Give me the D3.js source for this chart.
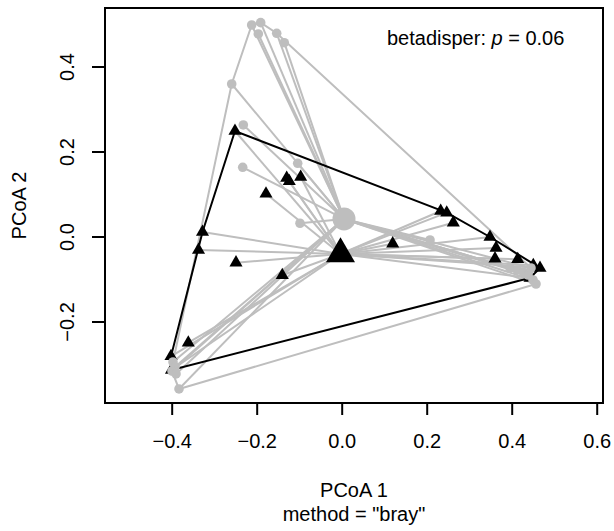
<!DOCTYPE html>
<html>
<head>
<meta charset="utf-8">
<script src="https://cdn.jsdelivr.net/npm/d3@7"></script>
<style>
  body { margin: 0; background: #fff; }
  text { font-family: "Liberation Sans", Arial, Helvetica, sans-serif; fill: #000; }
</style>
</head>
<body>
<svg id="chart" width="614" height="531"></svg>
<script>
// Site scores on PCoA axes 1 and 2, group 1 (grey circles)
const group1X = [-0.2118, -0.1906, -0.1962, -0.1529, -0.1351, -0.2588, -0.2315, -0.2329, -0.1035, -0.0981,
                  0.2078, 0.3960, 0.4125, 0.4266, 0.4384, 0.4454, 0.4501, 0.4572,
                 -0.3969, -0.3922, -0.3993, -0.3898, -0.3828];
const group1Y = [0.4976, 0.5031, 0.4765, 0.4781, 0.4560, 0.3588, 0.2624, 0.1628, 0.1722, 0.0311,
                -0.0082, -0.0741, -0.0788, -0.0835, -0.0906, -0.0741, -0.1024, -0.1118,
                -0.2953, -0.3071, -0.3165, -0.3235, -0.3588];

// Site scores, group 2 (black triangles)
const group2X = [-0.2511, -0.1294, -0.1233, -0.0965, -0.1781, -0.3275, -0.3369, -0.2487, -0.1398, 0.1200,
                  0.2329, 0.2471, 0.2626, 0.3489, 0.3631, 0.3607, 0.4141, 0.4508, 0.4666, 0.4431,
                 -0.3609, -0.4016, -0.4005];
const group2Y = [0.2482, 0.1376, 0.1299, 0.1400, 0.1007, 0.0106, -0.0318, -0.0616, -0.0913, -0.0169,
                 0.0600, 0.0560, 0.0325, -0.0012, -0.0271, -0.0522, -0.0536, -0.0678, -0.0741, -0.0976,
                -0.2499, -0.2819, -0.3141];

// Group centroids (group 1, group 2)
const centroidX = [0.0054, -0.0028];
const centroidY = [0.0412, -0.0412];

const groupColors = ["#bebebe", "#000000"];
const xTicks = [-0.4, -0.2, 0.0, 0.2, 0.4, 0.6];
const yTicks = [-0.2, 0.0, 0.2, 0.4];
const xTitle = "PCoA 1";
const xSubTitle = 'method = "bray"';
const yTitle = "PCoA 2";
const pLabel = "0.06";

const svg = d3.select("#chart");
const plot = { left: 105, right: 603, top: 8, bottom: 403 };

// Equal aspect scales (same units per pixel on both axes)
const x = d3.scaleLinear().domain([-0.5569, 0.6148]).range([plot.left, plot.right]);
const y = d3.scaleLinear().domain([-0.3918, 0.5376]).range([plot.bottom, plot.top]);

const groups = [
  { xs: group1X, ys: group1Y, color: groupColors[0], shape: "circle" },
  { xs: group2X, ys: group2Y, color: groupColors[1], shape: "triangle" }
].map((g, i) => ({
  ...g,
  pts: g.xs.map((v, j) => [v, g.ys[j]]),
  cx: centroidX[i], cy: centroidY[i]
}));

const body = svg.append("g");

// Segments from each site to its group centroid
groups.forEach(g => {
  body.append("g").selectAll("line").data(g.pts).join("line")
    .attr("x1", x(g.cx)).attr("y1", y(g.cy))
    .attr("x2", d => x(d[0])).attr("y2", d => y(d[1]))
    .attr("stroke", "#bebebe").attr("stroke-width", 2);
});

// Convex hulls
groups.forEach(g => {
  const hull = d3.polygonHull(g.pts);
  body.append("path")
    .attr("d", d3.line().x(d => x(d[0])).y(d => y(d[1]))(hull) + "Z")
    .attr("fill", "none").attr("stroke", g.color).attr("stroke-width", 2);
});

const tri = s => d3.symbol().type(d3.symbolTriangle).size(s)();

// Centroids
body.append("circle")
  .attr("cx", x(centroidX[0])).attr("cy", y(centroidY[0])).attr("r", 11.5)
  .attr("fill", groupColors[0]);
body.append("path")
  .attr("d", tri(365))
  .attr("transform", `translate(${x(centroidX[1])},${y(centroidY[1])})`)
  .attr("fill", groupColors[1]);

// Sites: triangles first, circles drawn over them
body.append("g").selectAll("path").data(groups[1].pts).join("path")
  .attr("d", tri(74))
  .attr("transform", d => `translate(${x(d[0])},${y(d[1])})`)
  .attr("fill", groupColors[1]);
body.append("g").selectAll("circle").data(groups[0].pts).join("circle")
  .attr("cx", d => x(d[0])).attr("cy", d => y(d[1])).attr("r", 4.8)
  .attr("fill", groupColors[0]);

// Axes
const fmt = d3.format(".1f");
const xAxis = svg.append("g")
  .attr("transform", `translate(0,${plot.bottom})`)
  .call(d3.axisBottom(x).tickValues(xTicks).tickSize(12).tickPadding(19).tickFormat(fmt));
const yAxis = svg.append("g")
  .attr("transform", `translate(${plot.left},0)`)
  .call(d3.axisLeft(y).tickValues(yTicks).tickSize(13).tickFormat(fmt));
[xAxis, yAxis].forEach(a => {
  a.select(".domain").remove();
  a.selectAll(".tick line").attr("stroke", "#000").attr("stroke-width", 2);
  a.selectAll("text").attr("font-size", 20).attr("font-family", null);
});
yAxis.selectAll(".tick text")
  .attr("transform", "rotate(-90)")
  .attr("x", 0).attr("y", -31).attr("dy", 0)
  .attr("text-anchor", "middle");

// Plot frame
svg.append("rect")
  .attr("x", plot.left).attr("y", plot.top)
  .attr("width", plot.right - plot.left).attr("height", plot.bottom - plot.top)
  .attr("fill", "none").attr("stroke", "#000").attr("stroke-width", 2);

// Axis titles
const midX = (plot.left + plot.right) / 2;
svg.append("text").attr("x", midX).attr("y", 497).attr("text-anchor", "middle")
  .attr("font-size", 20).text(xTitle);
svg.append("text").attr("x", midX).attr("y", 521).attr("text-anchor", "middle")
  .attr("font-size", 20).text(xSubTitle);
svg.append("text")
  .attr("transform", `translate(26,${(plot.top + plot.bottom) / 2}) rotate(-90)`)
  .attr("text-anchor", "middle").attr("font-size", 20).text(yTitle);

// Dispersion test annotation
const note = svg.append("text").attr("x", 387).attr("y", 45).attr("font-size", 20);
note.append("tspan").text("betadisper: ");
note.append("tspan").attr("font-style", "italic").text("p");
note.append("tspan").text(" = " + pLabel);
</script>
</body>
</html>
